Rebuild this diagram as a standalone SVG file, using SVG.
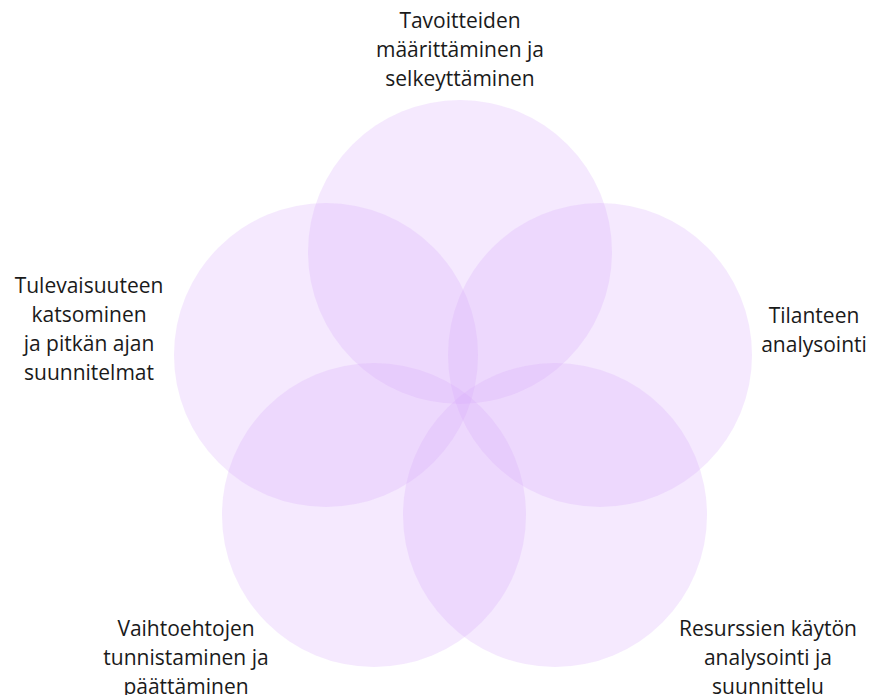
<svg xmlns="http://www.w3.org/2000/svg" width="872" height="695" viewBox="0 0 872 695">
<style>
.c{fill:#d9a6fb;fill-opacity:0.25}
.t{font-family:"Open Sans","Noto Sans",sans-serif;font-size:21px;fill:#1a1a1a;text-anchor:middle}
</style>
<rect width="872" height="695" fill="#ffffff"/>
<g id="circles">
<circle id="c-top" class="c" cx="460" cy="252" r="152"/>
<circle id="c-right" class="c" cx="600" cy="355" r="152"/>
<circle id="c-bright" class="c" cx="555" cy="515" r="152"/>
<circle id="c-bleft" class="c" cx="374" cy="515" r="152"/>
<circle id="c-left" class="c" cx="326" cy="355" r="152"/>
</g>
<g id="connectors"></g>
<g id="label-top"><text class="t" x="460" y="28">Tavoitteiden</text><text class="t" x="460" y="57">määrittäminen ja</text><text class="t" x="460" y="86">selkeyttäminen</text></g>
<g id="label-right"><text class="t" x="814" y="323">Tilanteen</text><text class="t" x="814" y="352">analysointi</text></g>
<g id="label-bright"><text class="t" x="768" y="636">Resurssien käytön</text><text class="t" x="768" y="665">analysointi ja</text><text class="t" x="768" y="694">suunnittelu</text></g>
<g id="label-bleft"><text class="t" x="186" y="636">Vaihtoehtojen</text><text class="t" x="186" y="665">tunnistaminen ja</text><text class="t" x="186" y="694">päättäminen</text></g>
<g id="label-left"><text class="t" x="89" y="293">Tulevaisuuteen</text><text class="t" x="89" y="322">katsominen</text><text class="t" x="89" y="351">ja pitkän ajan</text><text class="t" x="89" y="380">suunnitelmat</text></g>
</svg>
